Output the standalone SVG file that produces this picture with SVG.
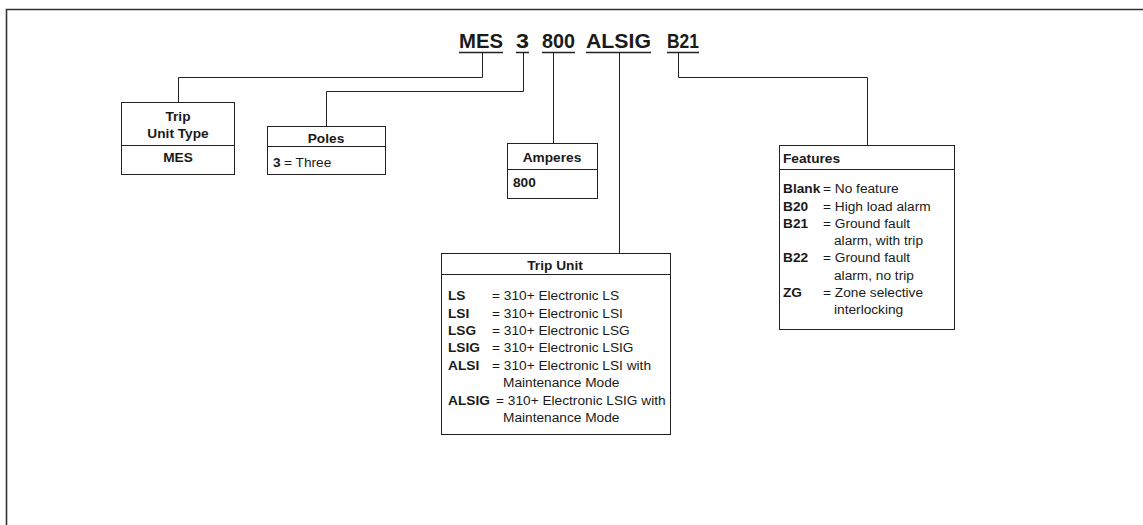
<svg xmlns="http://www.w3.org/2000/svg" width="1143" height="525" viewBox="0 0 1143 525">
<style>
text{font-family:"Liberation Sans",Arial,sans-serif;fill:#1a1a1a;}
.h{font-size:20px;font-weight:bold;}
.t{font-size:13.7px;}
.b{font-size:13.7px;font-weight:bold;}
.c{text-anchor:middle;}
.box{fill:#fff;stroke:#222;stroke-width:1;}
.ln{fill:none;stroke:#222;stroke-width:1;}
.ul{fill:none;stroke:#222;stroke-width:1.6;}
.frame{fill:none;stroke:#333;stroke-width:1.6;}
</style>
<rect x="0" y="0" width="1143" height="525" fill="#fff"/>
<path class="frame" d="M6.5,525 V9.5 H1143"/>
<g id="header">
<text class="h" x="459" y="48" textLength="44" lengthAdjust="spacingAndGlyphs">MES</text>
<text class="h" x="516" y="48" textLength="13" lengthAdjust="spacingAndGlyphs">3</text>
<text class="h" x="542" y="48" textLength="33" lengthAdjust="spacingAndGlyphs">800</text>
<text class="h" x="586" y="48" textLength="65" lengthAdjust="spacingAndGlyphs">ALSIG</text>
<text class="h" x="667" y="48" textLength="32" lengthAdjust="spacingAndGlyphs">B21</text>
<path class="ul" d="M459,52.5 H503 M516,52.5 H529 M542,52.5 H575 M586,52.5 H651 M667,52.5 H699"/>
</g>
<g id="connectors">
<path class="ln" d="M482.5,52 V77.5 H178.5 V102"/>
<path class="ln" d="M523.5,52 V91.5 H326.5 V126"/>
<path class="ln" d="M553.5,52 V143"/>
<path class="ln" d="M619.5,52 V253"/>
<path class="ln" d="M678.5,52 V77.5 H867.5 V145"/>
</g>
<g id="trip-unit-type">
<rect class="box" x="121.5" y="102.5" width="113" height="72"/>
<line class="ln" x1="121.5" y1="145.5" x2="234.5" y2="145.5"/>
<text class="b c" x="178" y="121">Trip</text>
<text class="b c" x="178" y="138">Unit Type</text>
<text class="b c" x="178" y="162">MES</text>
</g>
<g id="poles">
<rect class="box" x="267.5" y="126.5" width="118" height="48"/>
<line class="ln" x1="267.5" y1="146.5" x2="385.5" y2="146.5"/>
<text class="b c" x="326" y="143">Poles</text>
<text class="b" x="273" y="167">3</text>
<text class="t" x="284" y="167">= Three</text>
</g>
<g id="amperes">
<rect class="box" x="507.5" y="143.5" width="90" height="55"/>
<line class="ln" x1="507.5" y1="169.5" x2="597.5" y2="169.5"/>
<text class="b c" x="552" y="162">Amperes</text>
<text class="b" x="513" y="187">800</text>
</g>
<g id="trip-unit">
<rect class="box" x="441.5" y="253.5" width="229" height="181"/>
<line class="ln" x1="441.5" y1="274.5" x2="670.5" y2="274.5"/>
<text class="b c" x="555" y="270">Trip Unit</text>
<text class="b" x="448" y="300">LS</text><text class="t" x="492" y="300">= 310+ Electronic LS</text>
<text class="b" x="448" y="317.5">LSI</text><text class="t" x="492" y="317.5">= 310+ Electronic LSI</text>
<text class="b" x="448" y="335">LSG</text><text class="t" x="492" y="335">= 310+ Electronic LSG</text>
<text class="b" x="448" y="352">LSIG</text><text class="t" x="492" y="352">= 310+ Electronic LSIG</text>
<text class="b" x="448" y="369.5">ALSI</text><text class="t" x="492" y="369.5">= 310+ Electronic LSI with</text>
<text class="t" x="503" y="387">Maintenance Mode</text>
<text class="b" x="448" y="404.5">ALSIG</text><text class="t" x="496" y="404.5">= 310+ Electronic LSIG with</text>
<text class="t" x="503" y="422">Maintenance Mode</text>
</g>
<g id="features">
<rect class="box" x="779.5" y="145.5" width="175" height="184"/>
<line class="ln" x1="779.5" y1="169.5" x2="954.5" y2="169.5"/>
<text class="b" x="783" y="163">Features</text>
<text class="b" x="783" y="193">Blank</text><text class="t" x="823" y="193">= No feature</text>
<text class="b" x="783" y="210.5">B20</text><text class="t" x="823" y="210.5">= High load alarm</text>
<text class="b" x="783" y="228">B21</text><text class="t" x="823" y="228">= Ground fault</text>
<text class="t" x="834" y="245">alarm, with trip</text>
<text class="b" x="783" y="262">B22</text><text class="t" x="823" y="262">= Ground fault</text>
<text class="t" x="834" y="279.5">alarm, no trip</text>
<text class="b" x="783" y="297">ZG</text><text class="t" x="823" y="297">= Zone selective</text>
<text class="t" x="834" y="314">interlocking</text>
</g>
</svg>
